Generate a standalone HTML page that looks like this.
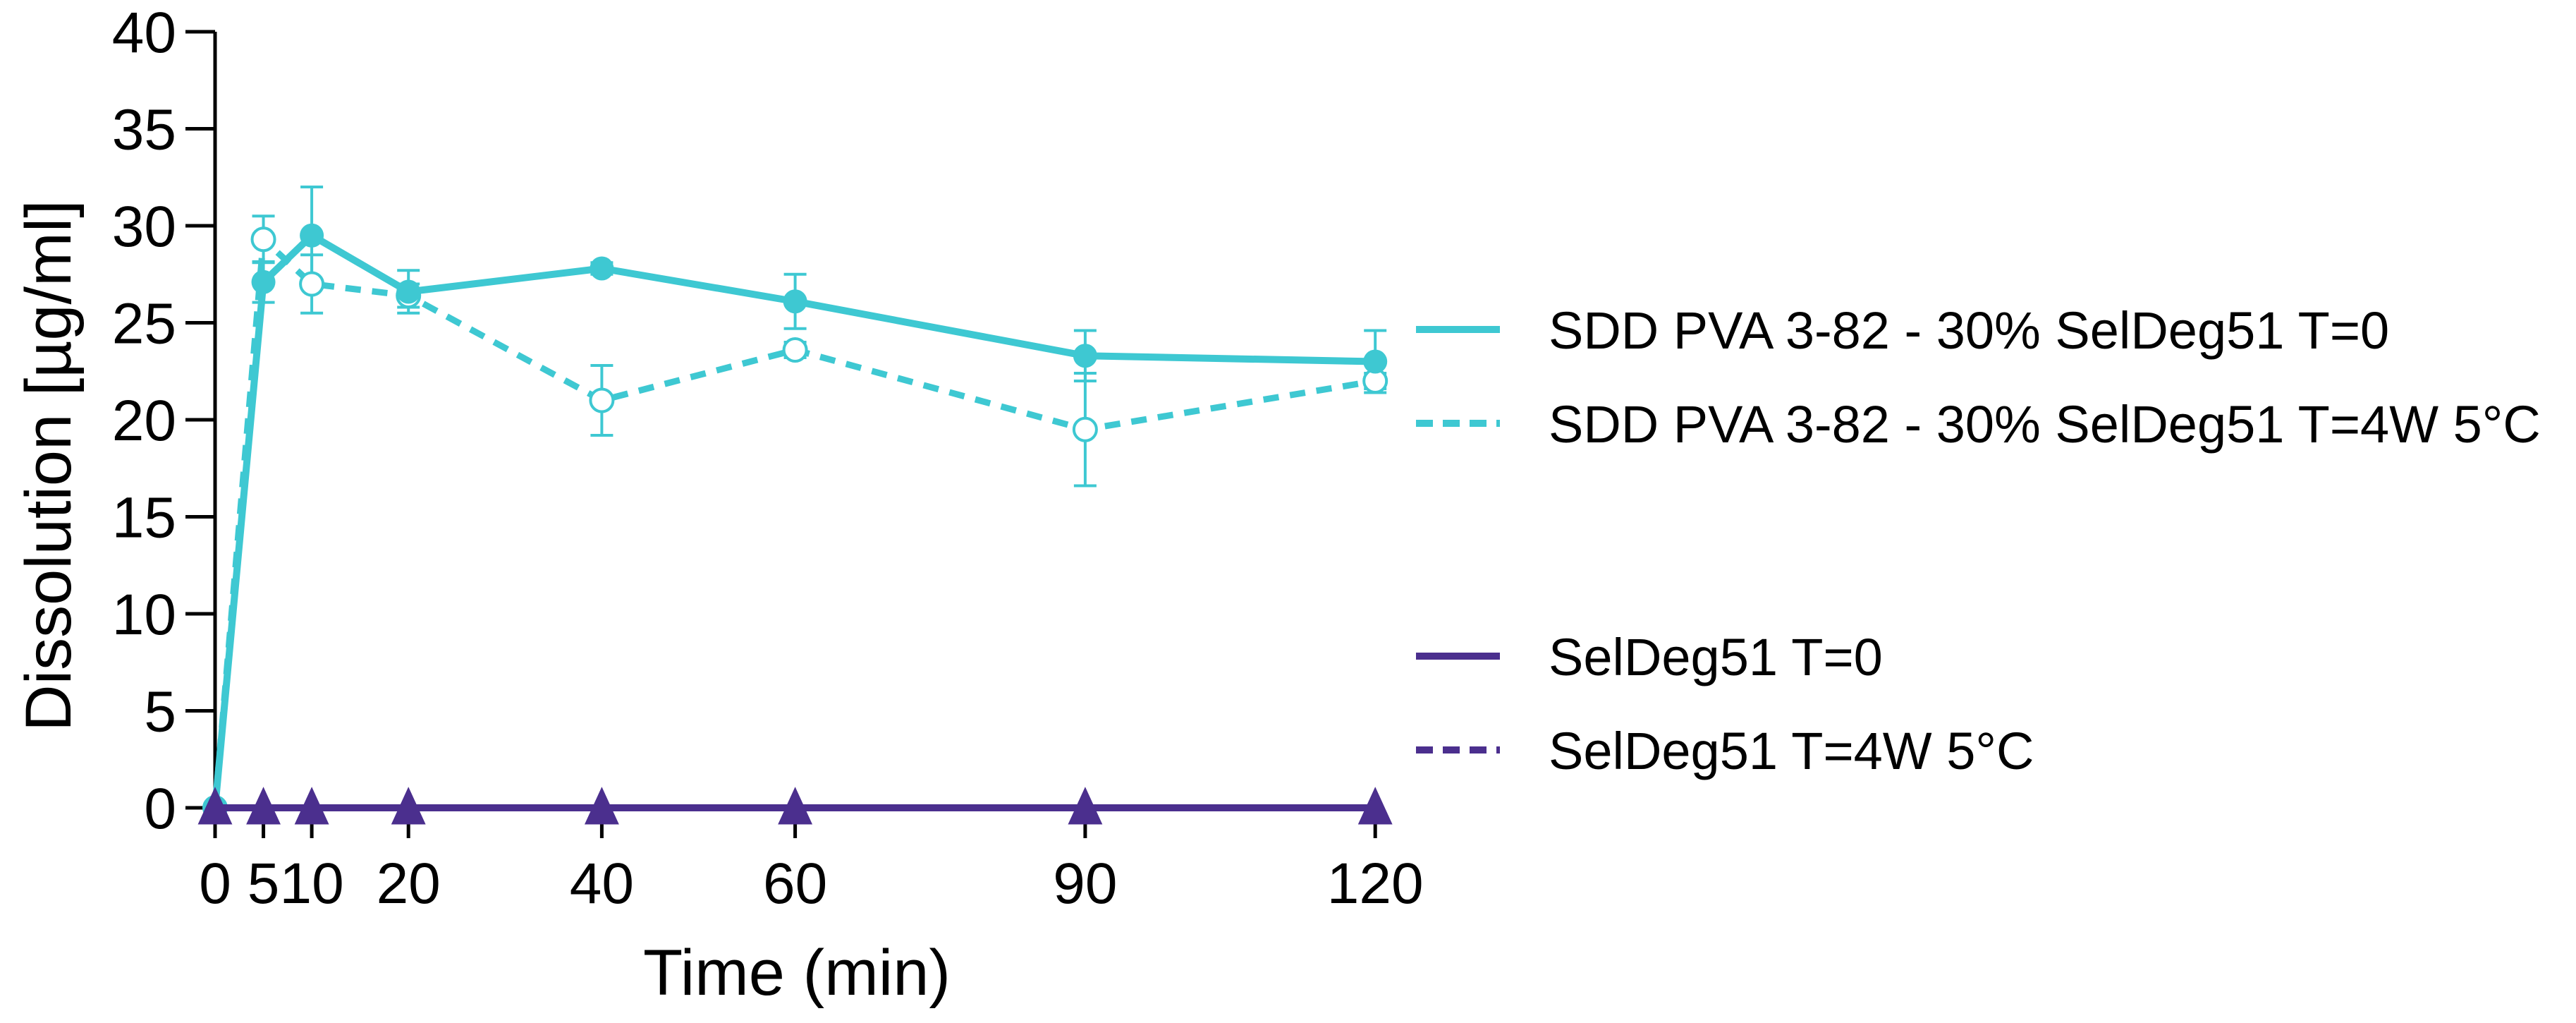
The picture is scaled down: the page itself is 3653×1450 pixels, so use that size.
<!DOCTYPE html>
<html><head><meta charset="utf-8"><style>
html,body{margin:0;padding:0;background:#fff;}
svg{display:block;font-family:"Liberation Sans",Arial,sans-serif;}
</style></head><body>
<svg id="chart" width="3653" height="1450" viewBox="0 0 3653 1450" xmlns="http://www.w3.org/2000/svg">
<g id="axes"></g>
<g id="series"></g>
<g id="legend"></g>
<text x="0" y="0" transform="translate(100,660) rotate(-90)" text-anchor="middle" font-size="92" fill="#000">Dissolution [µg/ml]</text>
<text x="1130" y="1410" text-anchor="middle" font-size="92" fill="#000">Time (min)</text>
</svg>
<script>
const times = [0, 5, 10, 20, 40, 60, 90, 120];
const sddT0 = [0, 27.1, 29.5, 26.6, 27.8, 26.1, 23.3, 23.0];
const sddT0Err = [0, 1.05, 2.5, 1.1, 0.3, 1.4, 1.3, 1.6];
const sdd4W = [0, 29.3, 27.0, 26.4, 21.0, 23.6, 19.5, 22.0];
const sdd4WErr = [0, 1.2, 1.5, 0.6, 1.8, 0.4, 2.9, 0.4];
const selT0 = [0, 0, 0, 0, 0, 0, 0, 0];
const sel4W = [0, 0, 0, 0, 0, 0, 0, 0];
const yTicks = [0, 5, 10, 15, 20, 25, 30, 35, 40];
const xTickLabels = ["0", "5", "10", "20", "40", "60", "90", "120"];
const legendLabels = ["SDD PVA 3-82 - 30% SelDeg51 T=0", "SDD PVA 3-82 - 30% SelDeg51 T=4W 5°C", "SelDeg51 T=0", "SelDeg51 T=4W 5°C"];

const NS = "http://www.w3.org/2000/svg";
const X0 = 305, XPX = 13.71, Y0 = 1145, YPX = 27.5;
function xs(t){ return X0 + t * XPX; }
function ys(v){ return Y0 - v * YPX; }
function mk(tag, attrs, parent){ const e = document.createElementNS(NS, tag); for (const k in attrs) e.setAttribute(k, attrs[k]); parent.appendChild(e); return e; }
const CY = "#3ec8d2", PU = "#4b2f8e";
const axes = document.getElementById('axes');
const series = document.getElementById('series');
const legend = document.getElementById('legend');

let a = mk('line', {x1: X0, y1: ys(40), x2: X0, y2: ys(0), stroke: '#000', 'stroke-width': 5}, axes);


yTicks.forEach(v => {
  const t = mk('line', {x1: 263, y1: ys(v), x2: X0, y2: ys(v), stroke: '#000', 'stroke-width': 5}, axes);
  
  
  const l = mk('text', {x: 250, y: ys(v) + 29, 'text-anchor': 'end', 'font-size': 82, fill: '#000'}, axes);
  l.textContent = v;
  
  
});
times.forEach((t, i) => {
  const tk = mk('line', {x1: xs(t), y1: ys(0), x2: xs(t), y2: 1188, stroke: '#000', 'stroke-width': 5}, axes);
  
  
  const l = mk('text', {x: xs(t), y: 1280, 'text-anchor': 'middle', 'font-size': 82, fill: '#000'}, axes);
  l.textContent = xTickLabels[i];
  
  
});

function errBars(vals, errs, name){
  vals.forEach((v, i) => {
    if (!errs[i]) return;
    const x = xs(times[i]);
    const g = mk('g', {stroke: CY, 'stroke-width': 4}, series);
    
    
    mk('line', {x1: x, y1: ys(v + errs[i]), x2: x, y2: ys(v - errs[i])}, g);
    mk('line', {x1: x - 16, y1: ys(v + errs[i]), x2: x + 16, y2: ys(v + errs[i])}, g);
    mk('line', {x1: x - 16, y1: ys(v - errs[i]), x2: x + 16, y2: ys(v - errs[i])}, g);
  });
}
function pts(vals){ return vals.map((v, i) => xs(times[i]) + ',' + ys(v)).join(' '); }

errBars(sdd4W, sdd4WErr, 'error-bar-sdd-4w');
errBars(sddT0, sddT0Err, 'error-bar-sdd-t0');
let p = mk('polyline', {points: pts(sdd4W), fill: 'none', stroke: CY, 'stroke-width': 9, 'stroke-dasharray': '22,16'}, series);


p = mk('polyline', {points: pts(sddT0), fill: 'none', stroke: CY, 'stroke-width': 10, 'stroke-linejoin': 'round'}, series);


sdd4W.forEach((v, i) => {
  const c = mk('circle', {cx: xs(times[i]), cy: ys(v), r: 16, fill: '#fff', stroke: CY, 'stroke-width': 4}, series);
  
  
});
sddT0.forEach((v, i) => {
  const c = mk('circle', {cx: xs(times[i]), cy: ys(v), r: 17, fill: CY}, series);
  
  
});
p = mk('polyline', {points: pts(sel4W), fill: 'none', stroke: PU, 'stroke-width': 9, 'stroke-dasharray': '22,16'}, series);


p = mk('polyline', {points: pts(selT0), fill: 'none', stroke: PU, 'stroke-width': 10}, series);


function tri(vals, name, fill){
  vals.forEach((v, i) => {
    const x = xs(times[i]), y = ys(v);
    const t = mk('polygon', {points: (x) + ',' + (y - 26) + ' ' + (x - 22) + ',' + (y + 22) + ' ' + (x + 22) + ',' + (y + 22), fill: fill, stroke: PU, 'stroke-width': 3}, series);
    
    
  });
}
tri(sel4W, 'point-seldeg-4w', PU);
tri(selT0, 'point-seldeg-t0', PU);

const legY = [467, 600, 930, 1063];
const legCol = [CY, CY, PU, PU];
const legDash = [null, '24,14', null, '24,14'];
legendLabels.forEach((lab, i) => {
  const g = mk('g', {}, legend);
  
  
  const ln = mk('line', {x1: 2008, y1: legY[i], x2: 2127, y2: legY[i], stroke: legCol[i], 'stroke-width': 10}, g);
  if (legDash[i]) ln.setAttribute('stroke-dasharray', legDash[i]);
  const t = mk('text', {x: 2196, y: legY[i] + 27, 'font-size': 74, fill: '#000'}, g);
  t.textContent = lab;
});
</script>
</body></html>
